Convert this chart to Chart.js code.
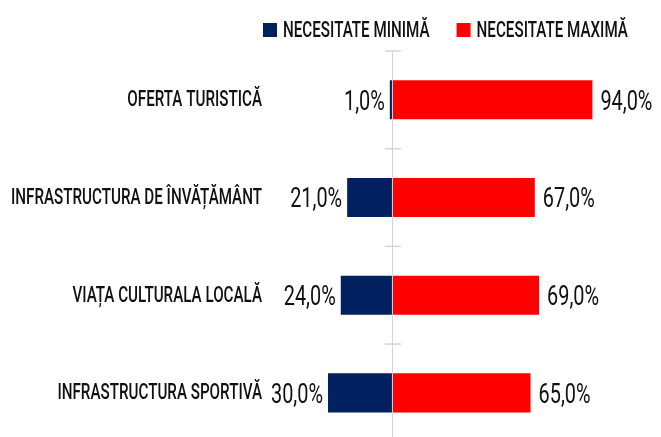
<!DOCTYPE html>
<html lang="ro">
<head>
<meta charset="utf-8">
<title>Necesitate minimă / maximă</title>
<script src="https://cdn.jsdelivr.net/npm/chart.js@4/dist/chart.umd.min.js"></script>
<style>
  html, body { margin: 0; padding: 0; background: #ffffff; overflow: hidden; }
  #wrap { position: absolute; left: 0; top: 0; width: 661px; height: 445px; }
</style>
</head>
<body>
<div id="wrap"><canvas id="chart"></canvas></div>
<script>
// Categories, top to bottom
const categories = [
  'OFERTA TURISTICĂ',
  'INFRASTRUCTURA DE ÎNVĂȚĂMÂNT',
  'VIAȚA CULTURALA LOCALĂ',
  'INFRASTRUCTURA SPORTIVĂ'
];
// Share of respondents (%)
const necesitateMinima = [1, 21, 24, 30];
const necesitateMaxima = [94, 67, 69, 65];
const seriesNames = ['NECESITATE MINIMĂ', 'NECESITATE MAXIMĂ'];
const seriesColors = ['#002060', '#FF0000'];

const FONT = 'Roboto, "Liberation Sans", sans-serif';
const TEXT_COLOR = '#111111';
const AXIS_COLOR = '#d4d4d4';

const fmt = v => Math.abs(v).toFixed(1).replace('.', ',') + '%';

// Draw condensed text (the typeface is narrowed horizontally)
function narrowText(ctx, text, x, y, style, align) {
  ctx.save();
  ctx.font = style.weight + ' ' + style.size + 'px ' + FONT;
  ctx.fillStyle = TEXT_COLOR;
  ctx.textAlign = align;
  ctx.textBaseline = 'alphabetic';
  ctx.translate(x, y + style.size * 0.711 / 2);
  ctx.scale(style.squeeze, 1);
  ctx.fillText(text, 0, 0);
  ctx.restore();
}
function narrowWidth(ctx, text, style) {
  ctx.save();
  ctx.font = style.weight + ' ' + style.size + 'px ' + FONT;
  const w = ctx.measureText(text).width * style.squeeze;
  ctx.restore();
  return w;
}

const LABEL_STYLE = { size: 22.5, squeeze: 0.675, weight: '500' };
const VALUE_STYLE = { size: 28, squeeze: 0.71, weight: '400' };

// Zero axis with short tick marks between categories
const zeroAxis = {
  id: 'zeroAxis',
  afterDatasetsDraw(chart) {
    const { ctx, chartArea, scales: { x, y } } = chart;
    const x0 = Math.round(x.getPixelForValue(0)) + 0.5;
    const band = y.getPixelForValue(1) - y.getPixelForValue(0);
    ctx.save();
    ctx.strokeStyle = AXIS_COLOR;
    ctx.lineWidth = 1;
    ctx.beginPath();
    ctx.moveTo(x0, chartArea.top);
    ctx.lineTo(x0, chartArea.bottom);
    ctx.stroke();
    ctx.lineWidth = 1.5;
    for (let i = 0; i <= categories.length; i++) {
      const yy = y.getPixelForValue(i) - band / 2;
      ctx.beginPath();
      ctx.moveTo(x0 - 7.5, yy);
      ctx.lineTo(x0 + 8.5, yy);
      ctx.stroke();
    }
    ctx.restore();
  }
};

// Category names and value labels
const labelsPlugin = {
  id: 'labelsPlugin',
  afterDraw(chart) {
    const { ctx, chartArea, scales: { y } } = chart;
    categories.forEach((name, i) => {
      const cy = y.getPixelForValue(i);
      narrowText(ctx, name, chartArea.left - 2, cy - 1.5, LABEL_STYLE, 'right');
    });
    chart.data.datasets.forEach((ds, di) => {
      const meta = chart.getDatasetMeta(di);
      meta.data.forEach((bar, i) => {
        const v = ds.data[i];
        if (v < 0) {
          narrowText(ctx, fmt(v), bar.x - 5, bar.y, VALUE_STYLE, 'right');
        } else {
          narrowText(ctx, fmt(v), bar.x + 8, bar.y, VALUE_STYLE, 'left');
        }
      });
    });
  }
};

// Legend row above the plot
const legendPlugin = {
  id: 'legendPlugin',
  afterDraw(chart) {
    const { ctx } = chart;
    const box = 14, gapText = 6, gapItem = 27;
    let xx = 263;
    const cy = 30;
    chart.data.datasets.forEach(ds => {
      ctx.fillStyle = ds.backgroundColor;
      ctx.fillRect(xx, cy - box / 2, box, box);
      xx += box + gapText;
      narrowText(ctx, ds.label, xx, cy - 0.5, LABEL_STYLE, 'left');
      xx += narrowWidth(ctx, ds.label, LABEL_STYLE) + gapItem;
    });
  }
};

new Chart(document.getElementById('chart'), {
  type: 'bar',
  data: {
    labels: categories,
    datasets: [
      {
        label: seriesNames[0],
        data: necesitateMinima.map(v => -v),
        backgroundColor: seriesColors[0],
        borderWidth: 0
      },
      {
        label: seriesNames[1],
        data: necesitateMaxima,
        backgroundColor: seriesColors[1],
        borderWidth: 0
      }
    ]
  },
  options: {
    indexAxis: 'y',
    responsive: true,
    maintainAspectRatio: false,
    animation: false,
    categoryPercentage: 1,
    barPercentage: 0.4,
    layout: { padding: { top: 51, left: 264, right: 2.5, bottom: 3.3 } },
    scales: {
      x: { stacked: true, display: false, min: -60, max: 125 },
      y: { stacked: true, display: false }
    },
    plugins: {
      legend: { display: false },
      tooltip: { enabled: false }
    }
  },
  plugins: [zeroAxis, labelsPlugin, legendPlugin]
});
</script>
</body>
</html>
